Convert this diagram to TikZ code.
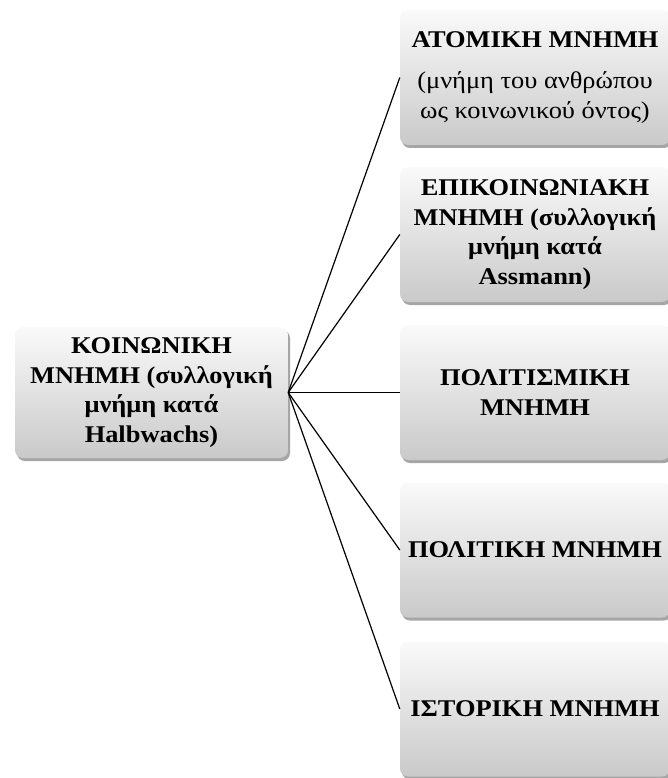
\documentclass[tikz,border=0pt]{standalone}
\usepackage{fontspec}
\setmainfont{Liberation Serif}[FakeStretch=1.1]
\usetikzlibrary{shadows}
\tikzset{
  memobox/.style={
    rounded corners=8pt,
    top color=white!98!black, bottom color=black!21,
    draw=none,
    drop shadow={shadow xshift=2pt, shadow yshift=-3pt, opacity=0.35, fill=black},
    align=center, inner sep=0pt,
    font=\fontsize{24}{29.5}\selectfont\bfseries
  },
  rightbox/.style={memobox, minimum width=270pt, minimum height=135pt},
  link/.style={draw=black, line width=1.2pt}
}
\begin{document}
\begin{tikzpicture}[x=1pt,y=-1pt]
\useasboundingbox (0,0) rectangle (668,778);
\fill[white] (0,0) rectangle (668,778);

% central node
\node[memobox, minimum width=273pt, minimum height=131pt] (soc) at (151.5,392.5)
  {ΚΟΙΝΩΝΙΚΗ\\ΜΝΗΜΗ (συλλογική\\μνήμη κατά\\Halbwachs)};

% branch nodes
\node[rightbox] (ato) at (535,77.5)
  {ΑΤΟΜΙΚΗ ΜΝΗΜΗ\\[12pt]{\mdseries (μνήμη του ανθρώπου}\\{\mdseries ως κοινωνικού όντος)}};
\node[rightbox] (epi) at (535,234.5)
  {ΕΠΙΚΟΙΝΩΝΙΑΚΗ\\ΜΝΗΜΗ (συλλογική\\μνήμη κατά\\Assmann)};
\node[rightbox] (pol) at (535,392.5)
  {ΠΟΛΙΤΙΣΜΙΚΗ\\ΜΝΗΜΗ};
\node[rightbox] (plt) at (535,550)
  {ΠΟΛΙΤΙΚΗ ΜΝΗΜΗ};
\node[rightbox] (ist) at (535,709)
  {ΙΣΤΟΡΙΚΗ ΜΝΗΜΗ};

% connectors
\foreach \t in {ato,epi,pol,plt,ist}
  \draw[link] (soc.east) -- (\t.west);
\end{tikzpicture}
\end{document}
